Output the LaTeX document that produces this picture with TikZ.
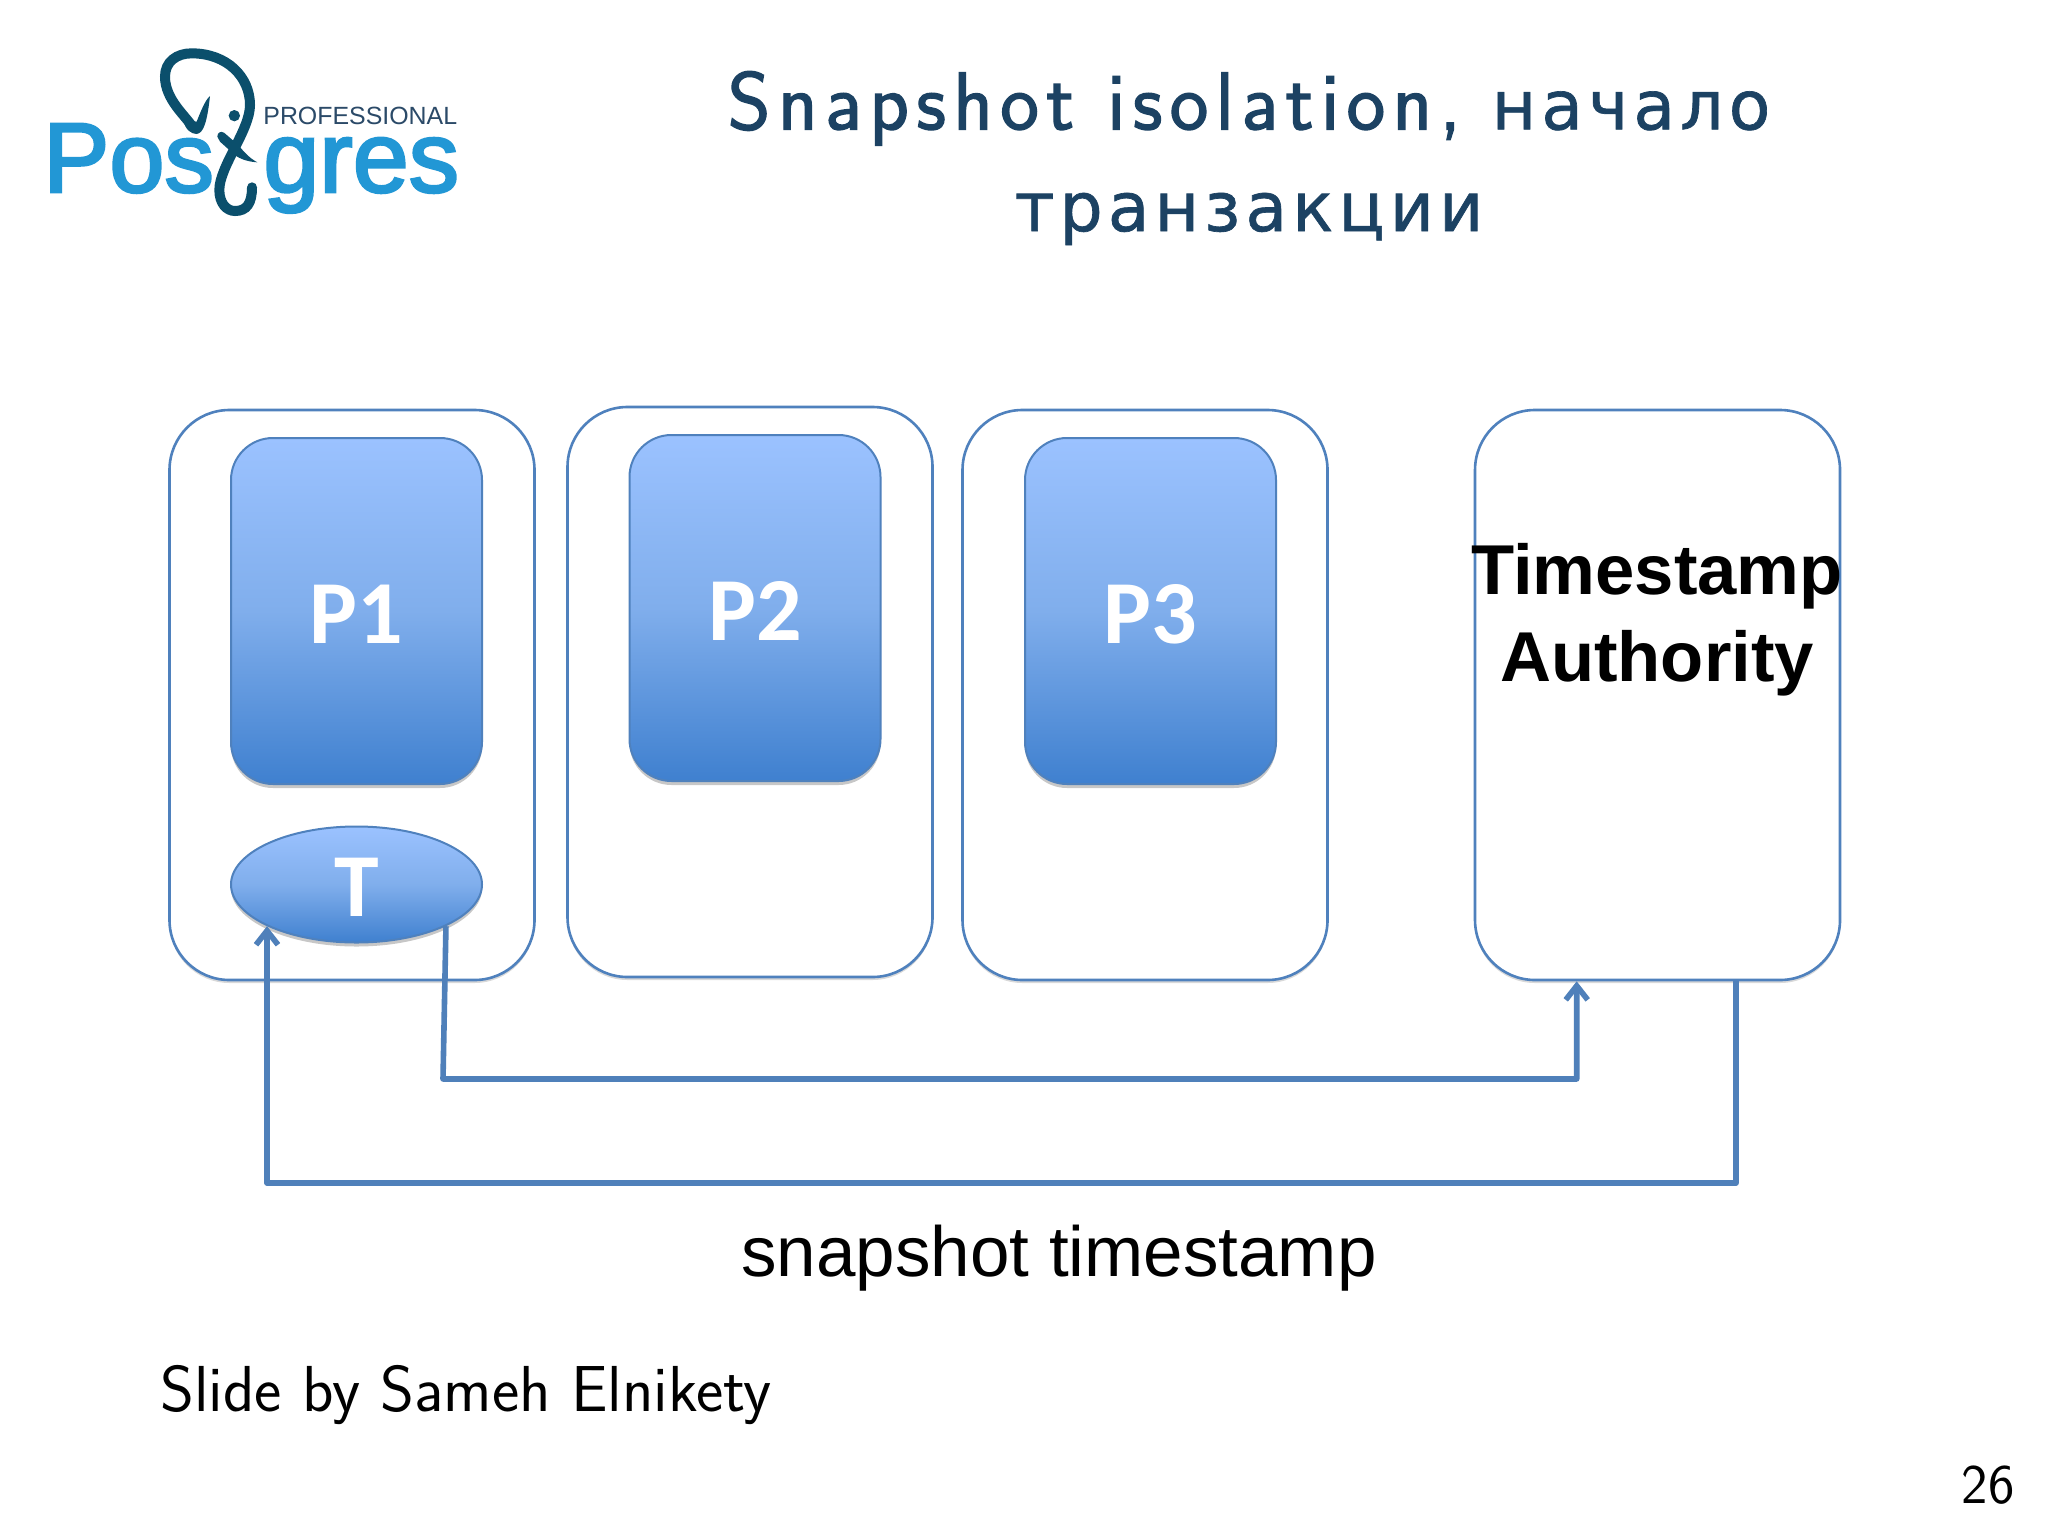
\documentclass[tikz,border=0pt]{standalone}
\usepackage{fontspec}
\newfontfamily\lib{Liberation Sans}
\newfontfamily\logof[FakeBold=2.6]{Liberation Sans}
\newfontfamily\carl{Carlito}
\newfontfamily\titlef[LetterSpace=9,FakeBold=1.6]{Latin Modern Sans}
\newfontfamily\cyrf[LetterSpace=7.5,FakeBold=1]{DejaVu Sans}
\usetikzlibrary{shapes.geometric,shadows,arrows.meta,calc}
\definecolor{edgeblue}{HTML}{4F81BD}
\definecolor{lineblue}{HTML}{4F80BA}
\definecolor{topblue}{HTML}{9BC2FF}
\definecolor{midblue}{HTML}{80AEEC}
\definecolor{botblue}{HTML}{3F80CF}
\definecolor{titleblue}{HTML}{1C4263}
\definecolor{logoblue}{HTML}{2297D5}
\definecolor{logodark}{HTML}{0B4F6C}
\definecolor{logonavy}{HTML}{2B4A68}
\tikzset{
  outerbox/.style={draw=edgeblue,line width=1.3pt,fill=white,rounded corners=30pt,minimum width=182.5pt,minimum height=285pt,inner sep=0pt,
    drop shadow={shadow xshift=0pt,shadow yshift=-1.5pt,opacity=.15,fill=black}},
  procfill/.style={draw=edgeblue,line width=1pt,top color=topblue,bottom color=botblue,middle color=midblue,text=white,font=\carl\bfseries\fontsize{45}{45}\selectfont,inner sep=0pt,
    drop shadow={shadow xshift=0pt,shadow yshift=-2pt,opacity=.22,fill=black}},
  procbox/.style={procfill,rounded corners=21pt,minimum width=125.5pt,minimum height=173pt},
  conn/.style={draw=lineblue,line width=2.8pt,line join=round},
  tipped/.style={conn,-{Straight Barb[length=7pt,width=11pt,line width=2.8pt]}},
  txt/.style={inner sep=0pt,anchor=base},
}
\begin{document}
\begin{tikzpicture}[x=0.5pt,y=-0.5pt]
\useasboundingbox[fill=white] (0,0) rectangle (2048,1536);

% boxes
\node[outerbox] (b1) at (352,695) {};
\node[outerbox] (b2) at (750,692) {};
\node[outerbox] (b3) at (1145,695) {};
\node[outerbox] (b4) at (1657.5,695) {};
\node[procbox] (p1) at (356.5,611) {\raisebox{0pt}[32pt][0pt]{P1}};
\node[procbox] (p2) at (755,608) {\raisebox{0pt}[32pt][0pt]{P2}};
\node[procbox] (p3) at (1150.5,611) {\raisebox{0pt}[32pt][0pt]{P3}};
\node[procfill,ellipse,minimum width=125.5pt,minimum height=58pt] (t) at (356.5,884.5) {\raisebox{0pt}[32pt][0pt]{T}};
\node[inner sep=0pt,align=center,font=\lib\bfseries\fontsize{35.3}{43.5}\selectfont] (ta) at (1657,620) {Timestamp\\Authority};

% connectors
\coordinate (a1) at ($(b4.south west)+(51.5pt,0)$);
\coordinate (a2) at ($(b4.south west)+(131pt,0)$);
\coordinate (c1) at (443,1079);
\coordinate (c2) at (267,1183);
\draw[tipped] (t.-25.6) -- (c1) -| (a1);
\draw[tipped] (a2) |- (c2) -- (c2 |- t.-155.2);

% texts
\node[txt,font=\fontsize{41}{50.8}\selectfont,text=titleblue,align=center] (title) at (1249,231) {{\titlef Snapshot isolation,}\hspace{3pt} {\cyrf\fontsize{34}{50.8}\selectfont начало}\\[0pt]{\cyrf\fontsize{34}{50.8}\selectfont транзакции}};
\node[txt,font=\lib\fontsize{35.5}{40}\selectfont] (snap) at (1059,1276) {snapshot timestamp};
\node[txt,anchor=base west,font=\sffamily\fontsize{32.5}{36}\selectfont] (slide) at (160,1411) {Slide by Sameh Elnikety};
\node[txt,anchor=base east,font=\sffamily\fontsize{28}{30}\selectfont] (num) at (2015,1503) {26};

% logo
\node[txt,anchor=base west,font=\logof\fontsize{49.5}{49}\selectfont,text=logoblue] (pos) at (43,192) {Pos};
\node[txt,anchor=base west,font=\logof\fontsize{50.3}{49}\selectfont,text=logoblue] (gres) at (263,192) {gres};
\node[txt,anchor=base west,font=\lib\fontsize{12.45}{14}\selectfont,text=logonavy] (prof) at (263,125) {PROFESSIONAL};
\begin{scope}[shift={(0,20)},x=0.16667pt,y=-0.16667pt]
\draw[logodark,line width=5pt,line cap=round] (578,322) .. controls (560,290) and (495,240) .. (495,170) .. controls (495,125) and (530,100) .. (575,100) .. controls (680,100) and (750,170) .. (750,255) .. controls (750,330) and (658,440) .. (658,510) .. controls (658,550) and (680,573) .. (705,573) .. controls (740,573) and (756,550) .. (756,502);
\fill[logodark] (550,300) .. controls (555,330) and (575,342) .. (590,342) .. controls (612,340) and (622,300) .. (630,228) .. controls (615,240) and (600,280) .. (590,305) -- cycle;
\fill[logodark] (652,350) .. controls (652,338) and (662,332) .. (672,338) -- (715,375) .. controls (735,400) and (750,415) .. (772,427) .. controls (740,425) and (710,415) .. (690,392) -- (660,365) -- cycle;
\fill[logodark] (703,287) circle[radius=17];
\end{scope}
\end{tikzpicture}
\end{document}
